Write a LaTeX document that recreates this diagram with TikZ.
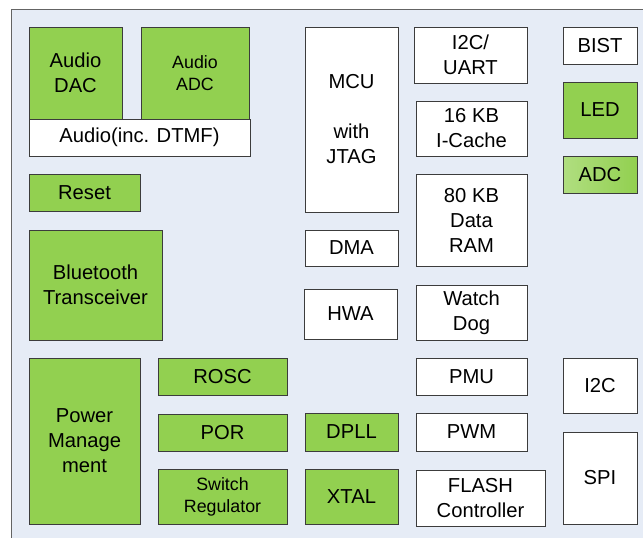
\documentclass[tikz,border=0pt]{standalone}
\usepackage{fontspec}
\setmainfont{Liberation Sans}
\definecolor{panelbg}{RGB}{230,236,246}
\definecolor{panelline}{RGB}{100,100,100}
\definecolor{boxgreen}{RGB}{146,208,80}
\definecolor{boxlight}{RGB}{176,222,128}
\definecolor{boxline}{RGB}{60,60,60}
\tikzset{
  blkbase/.style={draw=boxline, line width=0.9pt, inner sep=0pt, outer sep=0pt, align=center,
    font=\fontsize{20.2}{25}\selectfont},
  wbox/.style={blkbase, fill=white},
  gbox/.style={blkbase, fill=boxgreen},
  gradbox/.style={blkbase, left color=boxlight, right color=boxgreen},
  smalltext/.style={font=\fontsize{17.8}{22}\selectfont},
}
\newcommand\blk[7]{\node[#1, minimum width={(#5-#3)*1pt}, minimum height={(#6-#4)*1pt}, anchor=north west] (#2) at (#3,#4) {#7};}
\begin{document}
\begin{tikzpicture}[x=1pt,y=-1pt]
\useasboundingbox (0,0) rectangle (643,538);
\clip (0,0) rectangle (643,538);
\fill[white] (0,0) rectangle (643,538);
\draw[panelline, fill=panelbg, line width=0.9pt] (11,9) rectangle (660,560);
% left column
\blk{gbox}{audiodac}{29}{27}{122}{119}{Audio\\DAC}
\blk{gbox,smalltext}{audioadc}{141}{27}{249}{119}{Audio\\ADC}
\blk{wbox}{audio}{29}{119}{250}{156}{Audio(inc. DTMF)}
\blk{gbox}{reset}{29}{174}{140}{211}{Reset}
\blk{gbox}{bt}{29}{230}{162}{340}{Bluetooth\\Transceiver}
\blk{gbox}{pm}{29}{358}{140}{524}{Power\\Manage\\ment}
\blk{gbox}{rosc}{158}{358}{287}{395}{ROSC}
\blk{gbox}{por}{158}{414}{287}{451}{POR}
\blk{gbox,smalltext}{swreg}{158}{469}{287}{524}{Switch\\Regulator}
% MCU column
\blk{wbox}{mcu}{305}{27}{398}{212}{MCU\\[25pt]with\\JTAG}
\blk{wbox}{dma}{305}{230}{398}{266}{DMA}
\blk{wbox}{hwa}{304}{289}{397}{339}{HWA}
\blk{gbox}{dpll}{305}{413}{398}{451}{DPLL}
\blk{gbox}{xtal}{305}{469}{398}{524}{XTAL}
% memory column
\blk{wbox}{i2cuart}{414}{27}{527}{83}{I2C/\\UART}
\blk{wbox}{icache}{416}{101}{527}{156}{16 KB\\I-Cache}
\blk{wbox}{ram}{416}{174}{527}{266}{80 KB\\Data\\RAM}
\blk{wbox}{wd}{416}{285}{527}{340}{Watch\\Dog}
\blk{wbox}{pmu}{416}{358}{527}{395}{PMU}
\blk{wbox}{pwm}{416}{413}{527}{451}{PWM}
\blk{wbox}{flash}{416}{470}{545}{526}{FLASH\\Controller}
% right column
\blk{wbox}{bist}{563}{27}{637}{64}{BIST}
\blk{gbox}{led}{563}{82}{637}{138}{LED}
\blk{gradbox}{adc}{563}{156}{637}{193}{ADC}
\blk{wbox}{i2c}{563}{358}{637}{413}{I2C}
\blk{wbox}{spi}{563}{432}{637}{524}{SPI}
\end{tikzpicture}
\end{document}
